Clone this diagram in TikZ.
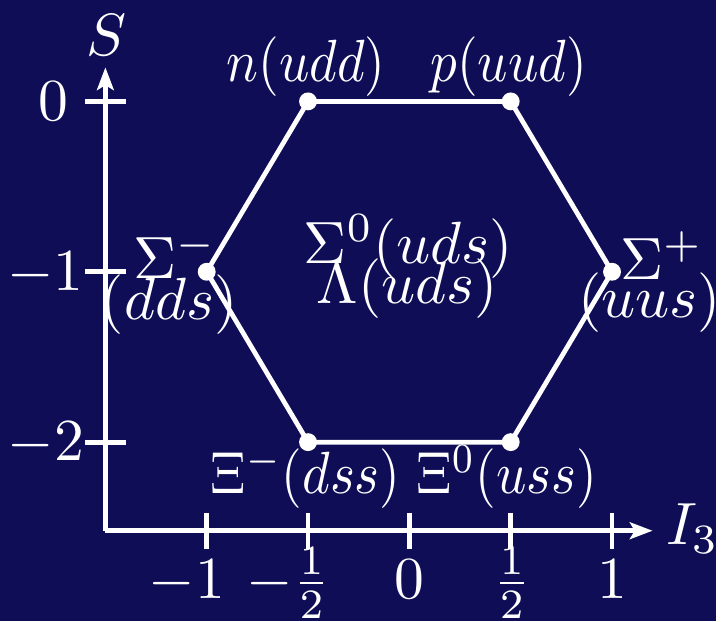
\documentclass[tikz,border=0pt]{standalone}
\usepackage{graphicx}
\usetikzlibrary{arrows.meta}
\definecolor{navy}{RGB}{14,13,86}
\newcommand{\sqz}[1]{\scalebox{0.89}[1]{#1}}
\begin{document}
\begin{tikzpicture}[x=34pt,y=28.583pt,line width=0.8pt,white,
  >={Stealth[length=3.8pt,width=2.8pt,inset=0.8pt]},
  dot/.style={circle,fill=white,inner sep=0pt,minimum size=3pt},
  lab/.style={anchor=base,inner sep=0pt}]
 \fill[navy] (-2.02,-3.05) rectangle (1.515,0.595);
 \coordinate (o) at (-1.5,-2.52);
 \coordinate (stop) at (-1.5,0.2);
 \coordinate (iend) at (1.2,-2.52);
 \draw[->] (o)--(stop);
 \draw[->] (o)--(iend);
 \foreach \s in {0,-1,-2} \draw (-1.6,\s)--(-1.4,\s);
 \foreach \i in {-1,-0.5,0,0.5,1} \draw (\i,-2.415)--(\i,-2.625);
 \node[lab] (slab) at (-1.495,0.268) {$S$};
 \node[lab] (ilab) at (1.397,-2.60) {$I_3$};
 \node[lab] (s0) at (-1.757,-0.11) {$0$};
 \node[lab] (s1) at (-1.681,-1.11) {$\llap{$-$}1$};
 \node[lab] (s2) at (-1.679,-2.11) {$\llap{$-$}2$};
 \node[lab] (im1) at (-0.983,-2.915) {$\llap{$-$}1$};
 \node[lab] (imh) at (-0.483,-2.915) {$\llap{$-$}\frac{1}{2}$};
 \node[lab] (i0) at (0,-2.915) {$0$};
 \node[lab] (iph) at (0.505,-2.915) {$\frac{1}{2}$};
 \node[lab] (ip1) at (1,-2.915) {$1$};
 \node[dot] (n) at (-0.5,0) {};
 \node[dot] (p) at (0.5,0) {};
 \node[dot] (sp) at (1,-1) {};
 \node[dot] (xz) at (0.5,-2) {};
 \node[dot] (xm) at (-0.5,-2) {};
 \node[dot] (sm) at (-1,-1) {};
 \draw (n.center)--(p.center)--(sp.center)--(xz.center)--(xm.center)--(sm.center)--cycle;
 \node[lab] (nl) at (-0.51,0.117) {\sqz{$n(udd)$}};
 \node[lab] (pl) at (0.49,0.117) {\sqz{$p(uud)$}};
 \node[lab] (sml) at (-1.157,-1.038) {$\Sigma^-$};
 \node[lab] (smq) at (-1.186,-1.283) {$(dds)$};
 \node[lab] (spl) at (1.245,-1.044) {$\Sigma^+$};
 \node[lab] (spq) at (1.186,-1.271) {$(uus)$};
 \node[lab] (szl) at (-0.005,-0.950) {$\Sigma^0(uds)$};
 \node[lab] (ll) at (-0.01,-1.184) {$\Lambda(uds)$};
 \node[lab] (xml) at (-0.512,-2.303) {\sqz{$\Xi^-(dss)$}};
 \node[lab] (xzl) at (0.48,-2.303) {\sqz{$\Xi^0(uss)$}};
\end{tikzpicture}
\end{document}
